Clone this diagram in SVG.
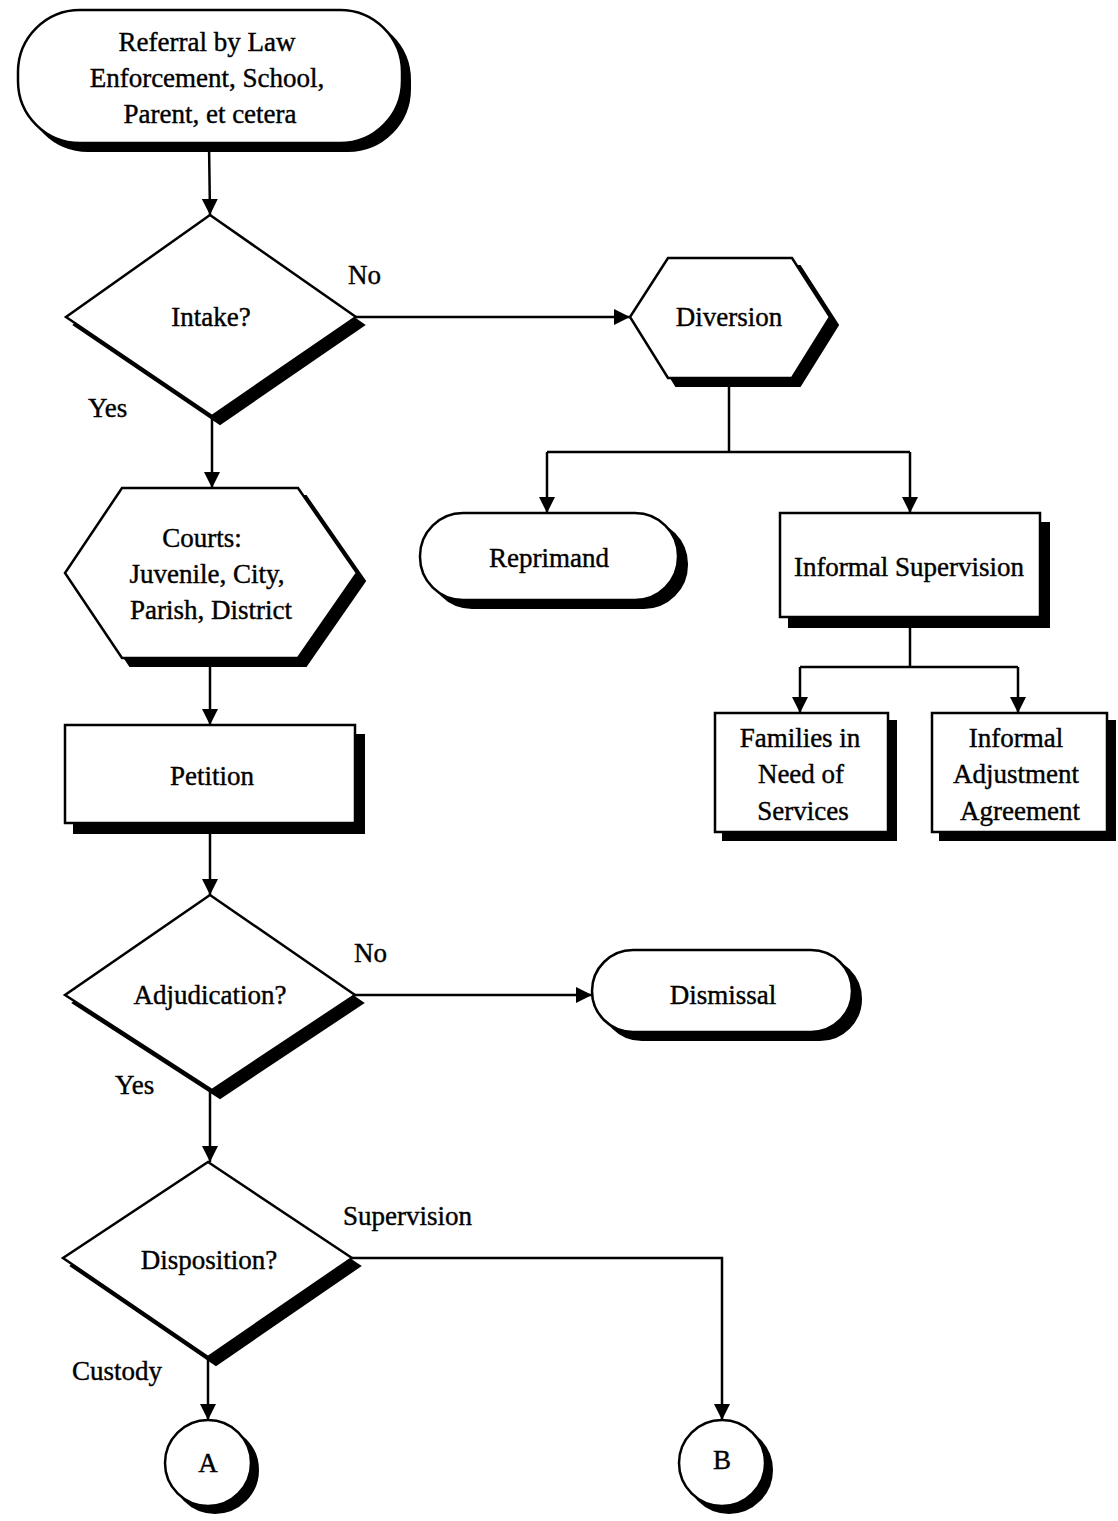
<svg xmlns="http://www.w3.org/2000/svg" width="1118" height="1521" viewBox="0 0 1118 1521">
<style>
.shape{fill:#fff;stroke:#000;stroke-width:2.5}
.shadow{fill:#000;stroke:#000;stroke-width:2}
.t{font-family:"Liberation Serif","Times New Roman",serif;font-size:27px;fill:#000;stroke:#000;stroke-width:0.4;text-anchor:middle}
.lbl{font-family:"Liberation Serif","Times New Roman",serif;font-size:27px;fill:#000;stroke:#000;stroke-width:0.4}
.c{fill:none;stroke:#000;stroke-width:2.5}
</style>
<defs>
<marker id="arr" markerUnits="userSpaceOnUse" markerWidth="18" markerHeight="18" refX="16" refY="9" orient="auto">
<path d="M0,1 L16,9 L0,17 z" fill="#000"/>
</marker>
</defs>
<rect width="1118" height="1521" fill="#fff"/>

<g id="connectors">
<line class="c" x1="209" y1="143" x2="210" y2="215" marker-end="url(#arr)"/>
<line class="c" x1="356" y1="317" x2="630" y2="317" marker-end="url(#arr)"/>
<line class="c" x1="212" y1="416" x2="212" y2="488" marker-end="url(#arr)"/>
<line class="c" x1="729" y1="376" x2="729" y2="452"/>
<line class="c" x1="547" y1="452" x2="910" y2="452"/>
<line class="c" x1="547" y1="452" x2="547" y2="513" marker-end="url(#arr)"/>
<line class="c" x1="910" y1="452" x2="910" y2="513" marker-end="url(#arr)"/>
<line class="c" x1="910" y1="617" x2="910" y2="667"/>
<line class="c" x1="800" y1="667" x2="1018" y2="667"/>
<line class="c" x1="800" y1="667" x2="800" y2="713" marker-end="url(#arr)"/>
<line class="c" x1="1018" y1="667" x2="1018" y2="713" marker-end="url(#arr)"/>
<line class="c" x1="210" y1="658" x2="210" y2="725" marker-end="url(#arr)"/>
<line class="c" x1="210" y1="823" x2="210" y2="895" marker-end="url(#arr)"/>
<line class="c" x1="355" y1="995" x2="592" y2="995" marker-end="url(#arr)"/>
<line class="c" x1="210" y1="1090" x2="210" y2="1162" marker-end="url(#arr)"/>
<line class="c" x1="208" y1="1357" x2="208" y2="1420" marker-end="url(#arr)"/>
<polyline class="c" points="352,1258 722,1258 722,1420" marker-end="url(#arr)"/>
</g>

<g id="referral">
<rect class="shadow" x="26" y="18" width="384" height="133" rx="62" ry="62"/>
<rect class="shape" x="18" y="10" width="384" height="133" rx="62" ry="62"/>
<text class="t" x="207" y="51">Referral by Law</text>
<text class="t" x="207" y="87">Enforcement, School,</text>
<text class="t" x="210" y="123">Parent, et cetera</text>
</g>

<g id="intake">
<polygon class="shadow" points="218,223 364,325 220,424 74,325"/>
<polygon class="shape" points="210,215 356,317 212,416 66,317"/>
<text class="t" x="211" y="326">Intake?</text>
</g>
<text class="lbl" x="348" y="284">No</text>
<text class="lbl" x="88" y="417">Yes</text>

<g id="diversion">
<polygon class="shadow" points="676,266 800,266 838,325 800,386 676,386 638,325"/>
<polygon class="shape" points="668,258 792,258 830,317 792,378 668,378 630,317"/>
<text class="t" x="729" y="326">Diversion</text>
</g>

<g id="reprimand">
<rect class="shadow" x="429" y="521" width="258" height="87" rx="43" ry="43"/>
<rect class="shape" x="420" y="513" width="258" height="87" rx="43" ry="43"/>
<text class="t" x="549" y="567">Reprimand</text>
</g>

<g id="informal-supervision">
<rect class="shadow" x="789" y="523" width="260" height="104"/>
<rect class="shape" x="780" y="513" width="260" height="104"/>
<text class="t" x="909" y="576">Informal Supervision</text>
</g>

<g id="families">
<rect class="shadow" x="723" y="721" width="173" height="119"/>
<rect class="shape" x="715" y="713" width="173" height="119"/>
<text class="t" x="800" y="747">Families in</text>
<text class="t" x="801" y="783">Need of</text>
<text class="t" x="803" y="820">Services</text>
</g>

<g id="informal-adjustment">
<rect class="shadow" x="940" y="721" width="175" height="119"/>
<rect class="shape" x="932" y="713" width="175" height="119"/>
<text class="t" x="1016" y="747">Informal</text>
<text class="t" x="1016" y="783">Adjustment</text>
<text class="t" x="1020" y="820">Agreement</text>
</g>

<g id="courts">
<polygon class="shadow" points="130,496 306,496 365,581 306,666 130,666 73,581"/>
<polygon class="shape" points="122,488 298,488 357,573 298,658 122,658 65,573"/>
<text class="t" x="202" y="547">Courts:</text>
<text class="t" x="207" y="583">Juvenile, City,</text>
<text class="t" x="211" y="619">Parish, District</text>
</g>

<g id="petition">
<rect class="shadow" x="74" y="735" width="290" height="98"/>
<rect class="shape" x="65" y="725" width="290" height="98"/>
<text class="t" x="212" y="785">Petition</text>
</g>

<g id="adjudication">
<polygon class="shadow" points="218,903 363,1003 220,1098 73,1003"/>
<polygon class="shape" points="210,895 355,995 212,1090 65,995"/>
<text class="t" x="210" y="1004">Adjudication?</text>
</g>
<text class="lbl" x="354" y="962">No</text>
<text class="lbl" x="115" y="1094">Yes</text>

<g id="dismissal">
<rect class="shadow" x="601" y="958" width="260" height="82" rx="41" ry="41"/>
<rect class="shape" x="592" y="950" width="260" height="82" rx="41" ry="41"/>
<text class="t" x="723" y="1004">Dismissal</text>
</g>

<g id="disposition">
<polygon class="shadow" points="216,1170 360,1266 216,1365 71,1266"/>
<polygon class="shape" points="208,1162 352,1258 208,1357 63,1258"/>
<text class="t" x="209" y="1269">Disposition?</text>
</g>
<text class="lbl" x="343" y="1225">Supervision</text>
<text class="lbl" x="72" y="1380">Custody</text>

<g id="connector-a">
<circle class="shadow" cx="215" cy="1470" r="43"/>
<circle class="shape" cx="208" cy="1463" r="43"/>
<text class="t" x="208" y="1472">A</text>
</g>

<g id="connector-b">
<circle class="shadow" cx="729" cy="1470" r="43"/>
<circle class="shape" cx="722" cy="1463" r="43"/>
<text class="t" x="722" y="1469">B</text>
</g>
</svg>
